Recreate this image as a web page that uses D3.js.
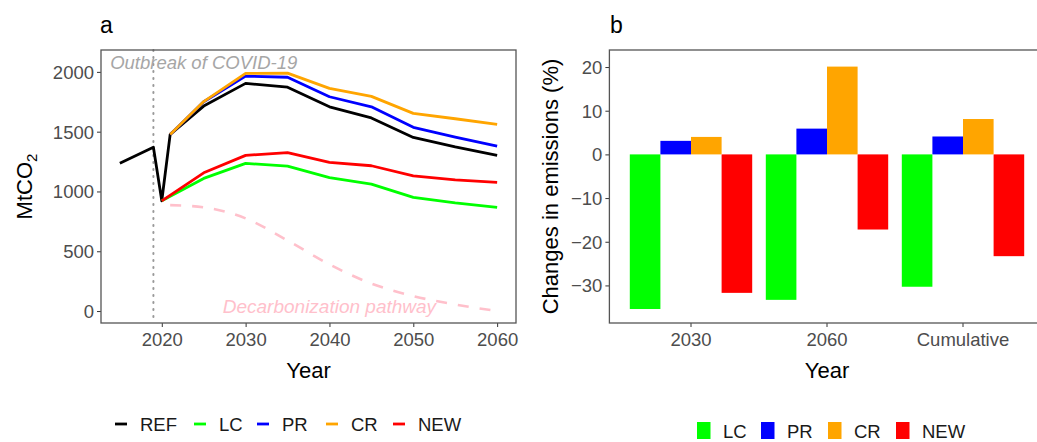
<!DOCTYPE html>
<html>
  <head>
    <meta charset='UTF-8'/>
    <script src="https://cdn.jsdelivr.net/npm/d3@7"></script>
    <style>
      body { margin: 0; background: white; }
      svg { font-family: "Liberation Sans", Arial, sans-serif; }
      .tick text { fill: #4d4d4d; font-size: 18.5px; }
      .tick line { stroke: #333; }
      .domain { display: none; }
    </style>
  </head>
  <body>
    <svg id='fig' width='1037' height='442'></svg>
    <script>
      // ---- data ----
      const scenarios = ["REF", "LC", "PR", "CR", "NEW"]
      const colors = ["black", "#00ff00", "#0000ff", "#ffa500", "#ff0000"]

      const refYears = [2015, 2019, 2020, 2021, 2025, 2030, 2035, 2040, 2045, 2050, 2055, 2060]
      const refVals  = [1235, 1370, 922, 1477, 1714, 1904, 1872, 1708, 1615, 1452, 1372, 1302]
      const lcYears  = [2020, 2025, 2030, 2035, 2040, 2045, 2050, 2055, 2060]
      const lcVals   = [922, 1109, 1235, 1212, 1115, 1062, 951, 905, 867]
      const prYears  = [2021, 2025, 2030, 2035, 2040, 2045, 2050, 2055, 2060]
      const prVals   = [1477, 1750, 1965, 1955, 1792, 1708, 1536, 1455, 1380]
      const crYears  = [2021, 2025, 2030, 2035, 2040, 2045, 2050, 2055, 2060]
      const crVals   = [1477, 1752, 1987, 1990, 1862, 1795, 1653, 1608, 1561]
      const newYears = [2020, 2025, 2030, 2035, 2040, 2045, 2050, 2055, 2060]
      const newVals  = [922, 1156, 1302, 1324, 1243, 1215, 1131, 1097, 1076]
      const decYears = [2021, 2025, 2030, 2035, 2040, 2045, 2050, 2055, 2060]
      const decVals  = [886, 867, 775, 590, 390, 230, 125, 55, 0]

      const xTicksA = [2020, 2030, 2040, 2050, 2060]
      const yTicksA = [0, 500, 1000, 1500, 2000]

      const barGroups = ["2030", "2060", "Cumulative"]
      const barSeries = ["LC", "PR", "CR", "NEW"]
      const barColors = ["#00ff00", "#0000ff", "#ffa500", "#ff0000"]
      const lcChange  = [-35.4, -33.3, -30.3]
      const prChange  = [3.1, 5.9, 4.1]
      const crChange  = [4.0, 20.1, 8.1]
      const newChange = [-31.7, -17.2, -23.3]
      const yTicksB = [-30, -20, -10, 0, 10, 20]

      const svg = d3.select("#fig")

      ////////////////////////////////////////////////////////////
      // panel a
      const a = {l: 101, r: 516, t: 50, b: 323}
      const xa = d3.scaleLinear().domain([2012.75, 2062.25]).range([a.l, a.r])
      const ya = d3.scaleLinear().domain([-100, 2183]).range([a.b, a.t])

      const lineSeries = [
        {name: "REF", years: refYears, vals: refVals},
        {name: "LC", years: lcYears, vals: lcVals},
        {name: "PR", years: prYears, vals: prVals},
        {name: "CR", years: crYears, vals: crVals},
        {name: "NEW", years: newYears, vals: newVals}
      ]

      const gax = svg.append("g").attr("transform", `translate(0,${a.b})`)
        .call(d3.axisBottom(xa).tickValues(xTicksA).tickFormat(d3.format("d")).tickSize(4).tickPadding(3))
      gax.selectAll(".tick text").attr("dy", null).attr("dominant-baseline", "hanging").attr("y", 9)
      const gay = svg.append("g").attr("transform", `translate(${a.l},0)`)
        .call(d3.axisLeft(ya).tickValues(yTicksA).tickFormat(d3.format("d")).tickSize(4).tickPadding(3))
      gay.selectAll(".tick text").attr("dy", null).attr("dominant-baseline", "central")

      // covid marker
      svg.append("line")
        .attr("x1", xa(2019)).attr("x2", xa(2019))
        .attr("y1", a.t).attr("y2", a.b)
        .attr("stroke", "#999").attr("stroke-width", 2)
        .attr("stroke-dasharray", "1,6").attr("stroke-linecap", "round")

      const line = d3.line().x(d => xa(d[0])).y(d => ya(d[1]))

      svg.append("path")
        .datum(d3.zip(decYears, decVals))
        .attr("d", line.curve(d3.curveMonotoneX))
        .attr("fill", "none").attr("stroke", "pink").attr("stroke-width", 2.6)
        .attr("stroke-dasharray", "11,11")
      line.curve(d3.curveLinear)

      lineSeries.forEach((s, i) => {
        svg.append("path")
          .datum(d3.zip(s.years, s.vals))
          .attr("d", line)
          .attr("fill", "none")
          .attr("stroke", colors[scenarios.indexOf(s.name)])
          .attr("stroke-width", 2.8)
          .attr("stroke-linejoin", "round")
      })

      svg.append("text")
        .attr("x", xa(2025)).attr("y", ya(2075))
        .attr("text-anchor", "middle").attr("dominant-baseline", "central")
        .attr("font-style", "italic").attr("font-size", 18.5).attr("fill", "#a6a6a6")
        .text("Outbreak of COVID-19")
      svg.append("text")
        .attr("x", xa(2040)).attr("y", ya(35))
        .attr("text-anchor", "middle").attr("dominant-baseline", "central")
        .attr("font-style", "italic").attr("font-size", 19).attr("fill", "pink")
        .text("Decarbonization pathway")

      svg.append("rect")
        .attr("x", a.l).attr("y", a.t).attr("width", a.r - a.l).attr("height", a.b - a.t)
        .attr("fill", "none").attr("stroke", "#555").attr("stroke-width", 1.3)

      svg.append("text").attr("x", 100).attr("y", 33).attr("font-size", 23).text("a")
      svg.append("text").attr("x", (a.l + a.r) / 2).attr("y", 378)
        .attr("text-anchor", "middle").attr("font-size", 22).text("Year")
      const mt = svg.append("text")
        .attr("transform", `translate(32,${(a.t + a.b) / 2}) rotate(-90)`)
        .attr("text-anchor", "middle").attr("font-size", 22)
      mt.append("tspan").text("MtCO")
      mt.append("tspan").attr("font-size", 15).attr("dy", 5).text("2")

      // legend a
      const legA = svg.append("g").attr("transform", "translate(115,424)")
      const legAx = [0, 79, 142, 211, 278]
      scenarios.forEach((s, i) => {
        legA.append("line").attr("x1", legAx[i]).attr("x2", legAx[i] + 12)
          .attr("stroke", colors[i]).attr("stroke-width", 2.8)
        legA.append("text").attr("x", legAx[i] + 25).attr("y", 0)
          .attr("dominant-baseline", "central").attr("font-size", 18.5).attr("fill", "#1a1a1a").text(s)
      })

      ////////////////////////////////////////////////////////////
      // panel b
      const b = {l: 609.4, r: 1044.6, t: 50, b: 323}
      const xb = d3.scaleBand().domain(barGroups).range([b.l, b.r]).paddingInner(0).paddingOuter(0.1)
      const xs = d3.scaleBand().domain(barSeries).range([0, xb.bandwidth() * 0.9])
      const yb = d3.scaleLinear().domain([-38.6, 23.9]).range([b.b, b.t])

      const changes = [lcChange, prChange, crChange, newChange]
      const bars = []
      barGroups.forEach((g, gi) => barSeries.forEach((s, si) =>
        bars.push({group: g, series: s, value: changes[si][gi], color: barColors[si]})))

      svg.append("g").selectAll("rect").data(bars).join("rect")
        .attr("x", d => xb(d.group) + xb.bandwidth() * 0.05 + xs(d.series))
        .attr("width", xs.bandwidth())
        .attr("y", d => yb(Math.max(0, d.value)))
        .attr("height", d => Math.abs(yb(d.value) - yb(0)))
        .attr("fill", d => d.color)

      const gbx = svg.append("g").attr("transform", `translate(0,${b.b})`)
        .call(d3.axisBottom(xb).tickSize(4).tickPadding(3))
      gbx.selectAll(".tick text").attr("dy", null).attr("dominant-baseline", "hanging").attr("y", 9)
      const gby = svg.append("g").attr("transform", `translate(${b.l},0)`)
        .call(d3.axisLeft(yb).tickValues(yTicksB).tickSize(4).tickPadding(3))
      gby.selectAll(".tick text").attr("dy", null).attr("dominant-baseline", "central")

      svg.append("rect")
        .attr("x", b.l).attr("y", b.t).attr("width", b.r - b.l).attr("height", b.b - b.t)
        .attr("fill", "none").attr("stroke", "#555").attr("stroke-width", 1.3)

      svg.append("text").attr("x", 610).attr("y", 33).attr("font-size", 23).text("b")
      svg.append("text").attr("x", xb("2060") + xb.bandwidth() / 2).attr("y", 378)
        .attr("text-anchor", "middle").attr("font-size", 22).text("Year")
      svg.append("text")
        .attr("transform", `translate(558,${(b.t + b.b) / 2}) rotate(-90)`)
        .attr("text-anchor", "middle").attr("font-size", 22)
        .text("Changes in emissions (%)")

      // legend b
      const legB = svg.append("g").attr("transform", "translate(697,422)")
      const legBx = [0, 64, 131, 199]
      barSeries.forEach((s, i) => {
        legB.append("rect").attr("x", legBx[i]).attr("y", 0).attr("width", 13.5).attr("height", 17)
          .attr("fill", barColors[i])
        legB.append("text").attr("x", legBx[i] + 26).attr("y", 9)
          .attr("dominant-baseline", "central").attr("font-size", 18.5).attr("fill", "#1a1a1a").text(s)
      })
    </script>
  </body>
</html>
